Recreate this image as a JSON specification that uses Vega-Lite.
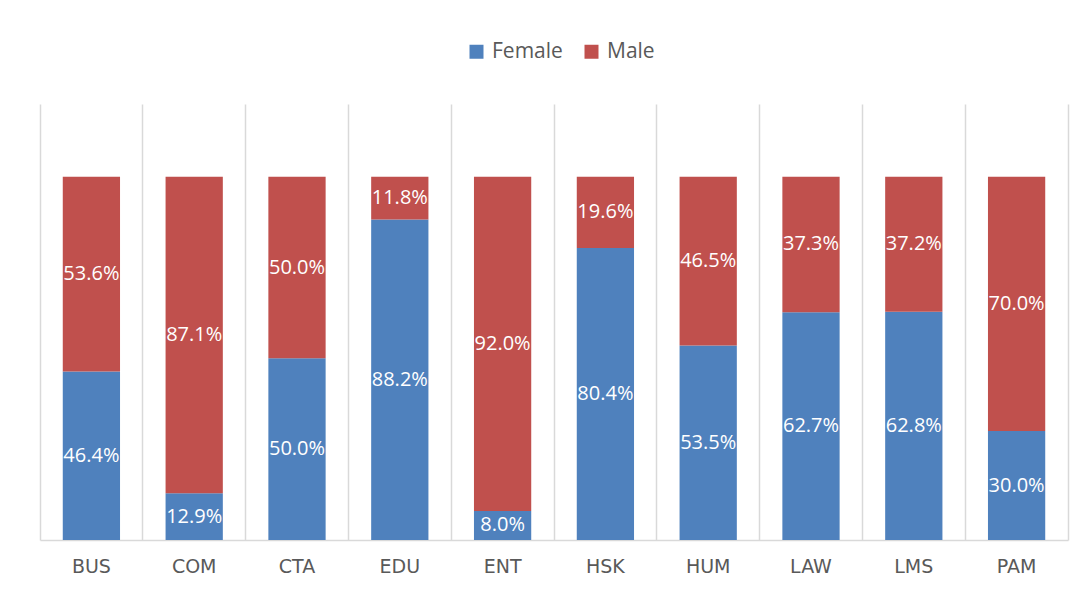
{
  "$schema": "https://vega.github.io/schema/vega-lite/v6.json",
  "autosize": "none",
  "padding": {"left": 40, "top": 104, "right": 19, "bottom": 50},
  "width": 1028,
  "height": 436,
  "background": "white",
  "config": {"view": {"stroke": null}, "font": "Open Sans"},
  "data": {"values": [
    {"dept": "BUS", "gender": "Female", "share": 0.464},
    {"dept": "BUS", "gender": "Male", "share": 0.536},
    {"dept": "COM", "gender": "Female", "share": 0.129},
    {"dept": "COM", "gender": "Male", "share": 0.871},
    {"dept": "CTA", "gender": "Female", "share": 0.500},
    {"dept": "CTA", "gender": "Male", "share": 0.500},
    {"dept": "EDU", "gender": "Female", "share": 0.882},
    {"dept": "EDU", "gender": "Male", "share": 0.118},
    {"dept": "ENT", "gender": "Female", "share": 0.080},
    {"dept": "ENT", "gender": "Male", "share": 0.920},
    {"dept": "HSK", "gender": "Female", "share": 0.804},
    {"dept": "HSK", "gender": "Male", "share": 0.196},
    {"dept": "HUM", "gender": "Female", "share": 0.535},
    {"dept": "HUM", "gender": "Male", "share": 0.465},
    {"dept": "LAW", "gender": "Female", "share": 0.627},
    {"dept": "LAW", "gender": "Male", "share": 0.373},
    {"dept": "LMS", "gender": "Female", "share": 0.628},
    {"dept": "LMS", "gender": "Male", "share": 0.372},
    {"dept": "PAM", "gender": "Female", "share": 0.300},
    {"dept": "PAM", "gender": "Male", "share": 0.700}
  ]},
  "transform": [
    {"calculate": "datum.gender === 'Female' ? 0 : 1", "as": "ord"},
    {"stack": "share", "groupby": ["dept"], "sort": [{"field": "ord"}], "as": ["s0", "s1"]},
    {"calculate": "(datum.s0 + datum.s1) / 2", "as": "mid"}
  ],
  "encoding": {
    "x": {
      "field": "dept", "type": "nominal",
      "scale": {"paddingInner": 0, "paddingOuter": 0},
      "axis": {
        "title": null, "labelAngle": 0, "bandPosition": 0,
        "grid": true, "gridColor": "#D9D9D9", "gridWidth": 1.5,
        "ticks": false, "domain": true, "domainColor": "#D9D9D9", "domainWidth": 1.5,
        "labelFontSize": 19, "labelColor": "#595959", "labelPadding": 17,
        "labelFont": "DejaVu Sans"
      }
    }
  },
  "layer": [
    {
      "mark": {"type": "bar", "width": {"band": 0.557}},
      "encoding": {
        "y": {
          "field": "s0", "type": "quantitative",
          "scale": {"domain": [0, 1.2], "nice": false, "zero": true},
          "axis": {"orient": "right", "labels": false, "ticks": false, "grid": false, "title": null,
                   "domain": true, "domainColor": "#D9D9D9", "domainWidth": 1.5}
        },
        "y2": {"field": "s1"},
        "color": {
          "field": "gender", "type": "nominal",
          "scale": {"domain": ["Female", "Male"], "range": ["#4F81BD", "#C0504D"]},
          "legend": {
            "title": null, "orient": "none", "direction": "horizontal",
            "legendX": 426, "legendY": -63,
            "symbolType": "square", "symbolSize": 196, "symbolStrokeWidth": 0,
            "labelFontSize": 21, "labelColor": "#595959", "labelFont": "Open Sans",
            "labelOffset": 5, "columnPadding": 18
          }
        }
      }
    },
    {
      "mark": {"type": "text", "color": "white", "fontSize": 20, "font": "Open Sans", "baseline": "middle", "align": "center"},
      "encoding": {
        "y": {"field": "mid", "type": "quantitative"},
        "text": {"field": "share", "type": "quantitative", "format": ".1%"}
      }
    }
  ]
}
